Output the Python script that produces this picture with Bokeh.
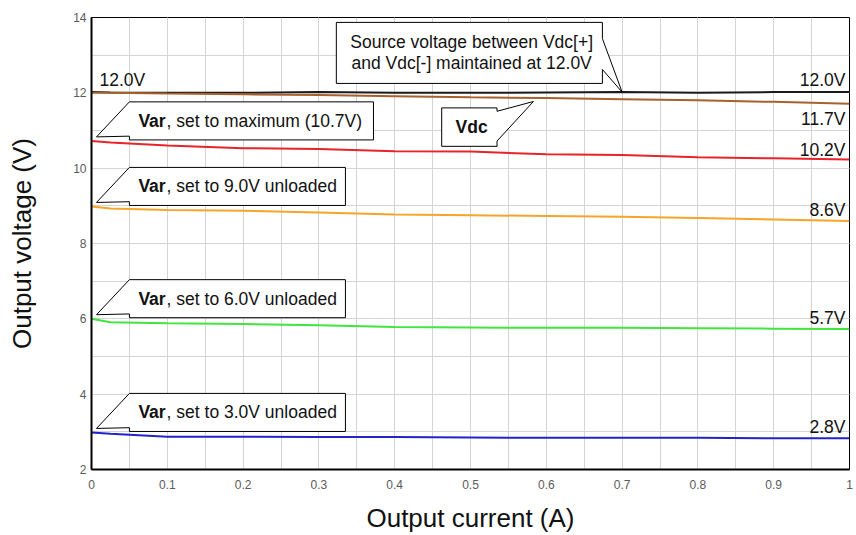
from bokeh.plotting import figure
from bokeh.models import FixedTicker, Range1d
from bokeh.core.properties import value
from bokeh.embed import file_html
from bokeh.resources import INLINE

# ---------------- data ----------------
current = [0, 0.025, 0.1, 0.2, 0.3, 0.4, 0.5, 0.6, 0.7, 0.8, 0.9, 1.0]
source_v = [12.02, 12.01, 12.0, 12.0, 12.02, 12.0, 12.0, 12.01, 12.02, 12.0, 12.02, 12.02]
vdc_v = [12.0, 12.0, 11.98, 11.96, 11.94, 11.91, 11.88, 11.86, 11.83, 11.80, 11.76, 11.71]
var_max = [10.72, 10.68, 10.6, 10.53, 10.51, 10.45, 10.44, 10.37, 10.35, 10.29, 10.26, 10.23]
var_9 = [8.98, 8.93, 8.89, 8.87, 8.82, 8.77, 8.75, 8.73, 8.71, 8.68, 8.64, 8.6]
var_6 = [6.0, 5.91, 5.88, 5.86, 5.83, 5.78, 5.77, 5.76, 5.76, 5.75, 5.74, 5.73]
var_3 = [2.98, 2.95, 2.87, 2.87, 2.86, 2.86, 2.85, 2.84, 2.84, 2.84, 2.83, 2.83]

end_labels = ["12.0V", "11.7V", "10.2V", "8.6V", "5.7V", "2.8V"]
start_label = "12.0V"
x_ticks = [0, 0.1, 0.2, 0.3, 0.4, 0.5, 0.6, 0.7, 0.8, 0.9, 1.0]
y_ticks = [2, 4, 6, 8, 10, 12, 14]

var_texts = ["set to maximum (10.7V)", "set to 9.0V unloaded",
             "set to 6.0V unloaded", "set to 3.0V unloaded"]
source_text = ["Source voltage between Vdc[+]", "and Vdc[-] maintained at 12.0V"]

FONT = value("Liberation Sans")
FS = "17.5px"

p = figure(width=856, height=535, output_backend="svg", toolbar_location=None,
           x_range=Range1d(0, 1), y_range=Range1d(2, 14),
           min_border_left=91, min_border_right=7, min_border_top=17, min_border_bottom=65)
p.background_fill_color = "white"
p.border_fill_color = "white"
p.outline_line_color = "black"
p.outline_line_width = 1

p.xaxis.ticker = FixedTicker(ticks=x_ticks, minor_ticks=[i * 0.05 for i in range(21)])
p.yaxis.ticker = FixedTicker(ticks=y_ticks, minor_ticks=list(range(2, 15)))
for g in (p.xgrid, p.ygrid):
    g.grid_line_color = "#d4d4d4"
    g.minor_grid_line_color = "#d4d4d4"
    g.grid_line_width = 1

for ax in (p.xaxis, p.yaxis):
    ax.axis_line_color = "black"
    ax.axis_line_width = 2
    ax.major_tick_line_color = None
    ax.minor_tick_line_color = None
    ax.major_tick_out = 0
    ax.major_tick_in = 0
    ax.minor_tick_out = 0
    ax.minor_tick_in = 0
    ax.major_label_text_font = "Liberation Sans"
    ax.major_label_text_font_size = "12px"
    ax.major_label_text_color = "#5a5a5a"
    ax.axis_label_text_font = "Liberation Sans"
    ax.axis_label_text_font_size = "26px"
    ax.axis_label_text_font_style = "normal"
    ax.axis_label_text_color = "#111111"

p.xaxis.axis_label = "Output current (A)"
p.yaxis.axis_label = "Output voltage (V)"
p.xaxis.major_label_standoff = 10
p.yaxis.major_label_standoff = 5
p.xaxis.axis_label_standoff = 11
p.yaxis.axis_label_standoff = 33
p.xaxis.major_label_overrides = {0: "0", 1: "1"}

series = [
    (source_v, "#1a1a1a"),
    (vdc_v, "#a8602c"),
    (var_max, "#e8232a"),
    (var_9, "#f5a529"),
    (var_6, "#3ee63e"),
    (var_3, "#2323cc"),
]
for ys, col in series:
    p.line(current, ys, line_color=col, line_width=2)

# end labels
end_vals = [source_v[-1], vdc_v[-1], var_max[-1], var_9[-1], var_6[-1], var_3[-1]]
end_offsets = [-12, 15, -10, -11, -11, -11]
for v, lbl, off in zip(end_vals, end_labels, end_offsets):
    p.text(x=[current[-1]], y=[v], text=[lbl], x_offset=-4, y_offset=off,
           text_align="right", text_baseline="alphabetic",
           text_font=FONT, text_font_size=FS, text_color="#111111")
p.text(x=[current[0]], y=[vdc_v[0]], text=[start_label], x_offset=8, y_offset=-13,
       text_align="left", text_baseline="alphabetic",
       text_font=FONT, text_font_size=FS, text_color="#111111")

# ---- callouts ----
def draw_patch(xs, ys):
    p.patch(xs, ys, fill_color="white", line_color="black", line_width=1)

var_firsts = [var_max[0], var_9[0], var_6[0], var_3[0]]
var_right = [0.372, 0.335, 0.335, 0.335]
bx0, tipx = 0.05, 0.0066
for v0, x1, txt in zip(var_firsts, var_right, var_texts):
    top, bot = v0 + 1.04, v0 + 0.03
    tipy, basey = v0 + 0.11, v0 + 0.13
    draw_patch([bx0, tipx, bx0, bx0, x1, x1], [top, tipy, basey, bot, bot, top])
    cy = (top + bot) / 2
    p.text(x=[bx0], y=[cy], text=["Var"], x_offset=9, text_align="left",
           text_baseline="middle", text_font=FONT, text_font_size=FS,
           text_font_style="bold", text_color="#111111")
    p.text(x=[bx0], y=[cy], text=[", " + txt], x_offset=9 + 28.2, text_align="left",
           text_baseline="middle", text_font=FONT, text_font_size=FS,
           text_color="#111111")

# Source voltage callout (pointer to black line at 0.7 A)
sx0, sx1, stop, sbot = 0.323, 0.674, 13.87, 12.25
tip_i = 8
draw_patch([sx0, sx1, sx1, current[tip_i], sx1, sx1, sx0],
           [stop, stop, 13.44, source_v[tip_i], 12.62, sbot, sbot])
scy = (stop + sbot) / 2
scx = (sx0 + sx1) / 2 + 0.003
p.text(x=[scx, scx], y=[scy + 0.28, scy - 0.28], text=source_text,
       text_align="center", text_baseline="middle", text_font=FONT,
       text_font_size=FS, text_color="#111111")

# Vdc callout
vx0, vx1, vtop, vbot = 0.462, 0.535, 11.6, 10.58
draw_patch([vx0, vx1, vx1, 0.583, vx1, vx1, vx0],
           [vtop, vtop, 11.51, 11.77, 10.72, vbot, vbot])
p.text(x=[(vx0 + vx1) / 2 + 0.003], y=[(vtop + vbot) / 2], text=["Vdc"],
       text_align="center", text_baseline="middle", text_font=FONT,
       text_font_size=FS, text_font_style="bold", text_color="#111111")

open("out.html", "w").write(file_html(p, INLINE))
